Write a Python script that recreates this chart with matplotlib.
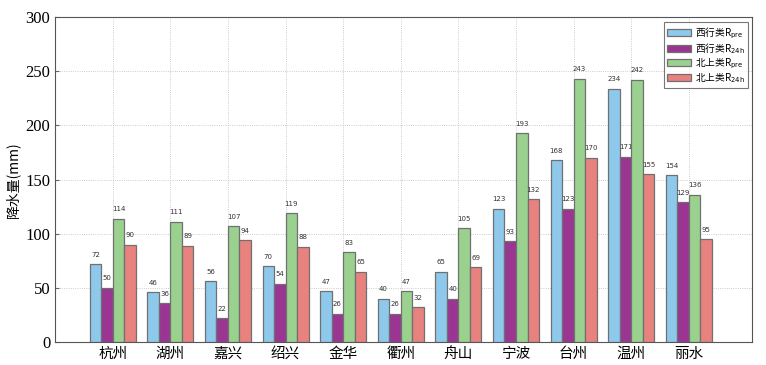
import numpy as np
import matplotlib.pyplot as plt

plt.rcParams['font.family'] = ['Noto Sans CJK SC', 'DejaVu Sans']

cities = ['杭州', '湖州', '嘉兴', '绍兴', '金华', '衢州', '舟山', '宁波', '台州', '温州', '丽水']
west_pre = [72, 46, 56, 70, 47, 40, 65, 123, 168, 234, 154]
west_24h = [50, 36, 22, 54, 26, 26, 40, 93, 123, 171, 129]
north_pre = [114, 111, 107, 119, 83, 47, 105, 193, 243, 242, 136]
north_24h = [90, 89, 94, 88, 65, 32, 69, 132, 170, 155, 95]

series = [
    (west_pre, '#8ec9ec', '西行类R$_{\\rm pre}$'),
    (west_24h, '#9a3592', '西行类R$_{\\rm 24h}$'),
    (north_pre, '#9ad18f', '北上类R$_{\\rm pre}$'),
    (north_24h, '#e8827f', '北上类R$_{\\rm 24h}$'),
]

fig = plt.figure(figsize=(7.66, 3.65), dpi=100)
ax = fig.add_axes([0.072, 0.063, 0.91, 0.89])

x = np.arange(len(cities))
w = 0.2
for i, (vals, col, lab) in enumerate(series):
    xs = x + (i - 1.5) * w
    ax.bar(xs, vals, w, color=col, edgecolor='#707070', linewidth=0.9, label=lab, zorder=3)
    for xi, v in zip(xs, vals):
        ax.text(xi, v + 6, str(v), ha='center', va='bottom', fontsize=5, color='#333333',
                family='DejaVu Sans')

ax.set_xlim(-1, 11.1)
ax.set_ylim(0, 300)
ax.set_xticks(x)
ax.set_xticklabels(cities, fontsize=10.5)
ax.set_yticks(range(0, 301, 50))
for t in ax.get_yticklabels():
    t.set_family('Liberation Serif')
    t.set_fontsize(12)
ax.set_ylabel('降水量(mm)', fontsize=10)
ax.grid(True, linestyle=':', color='#bbbbbb', linewidth=0.6, zorder=0)
ax.tick_params(direction='in', length=3, color='#666666')
for s in ax.spines.values():
    s.set_color('#555555')

leg = ax.legend(loc='upper right', fontsize=7, frameon=True, fancybox=False,
                edgecolor='#555555', handlelength=2.5, handleheight=0.7, borderpad=0.3,
                labelspacing=0.05, handletextpad=0.4, bbox_to_anchor=(0.997, 0.99),
                borderaxespad=0.2)
leg.get_frame().set_linewidth(0.8)

fig.savefig('out.png', dpi=100)
